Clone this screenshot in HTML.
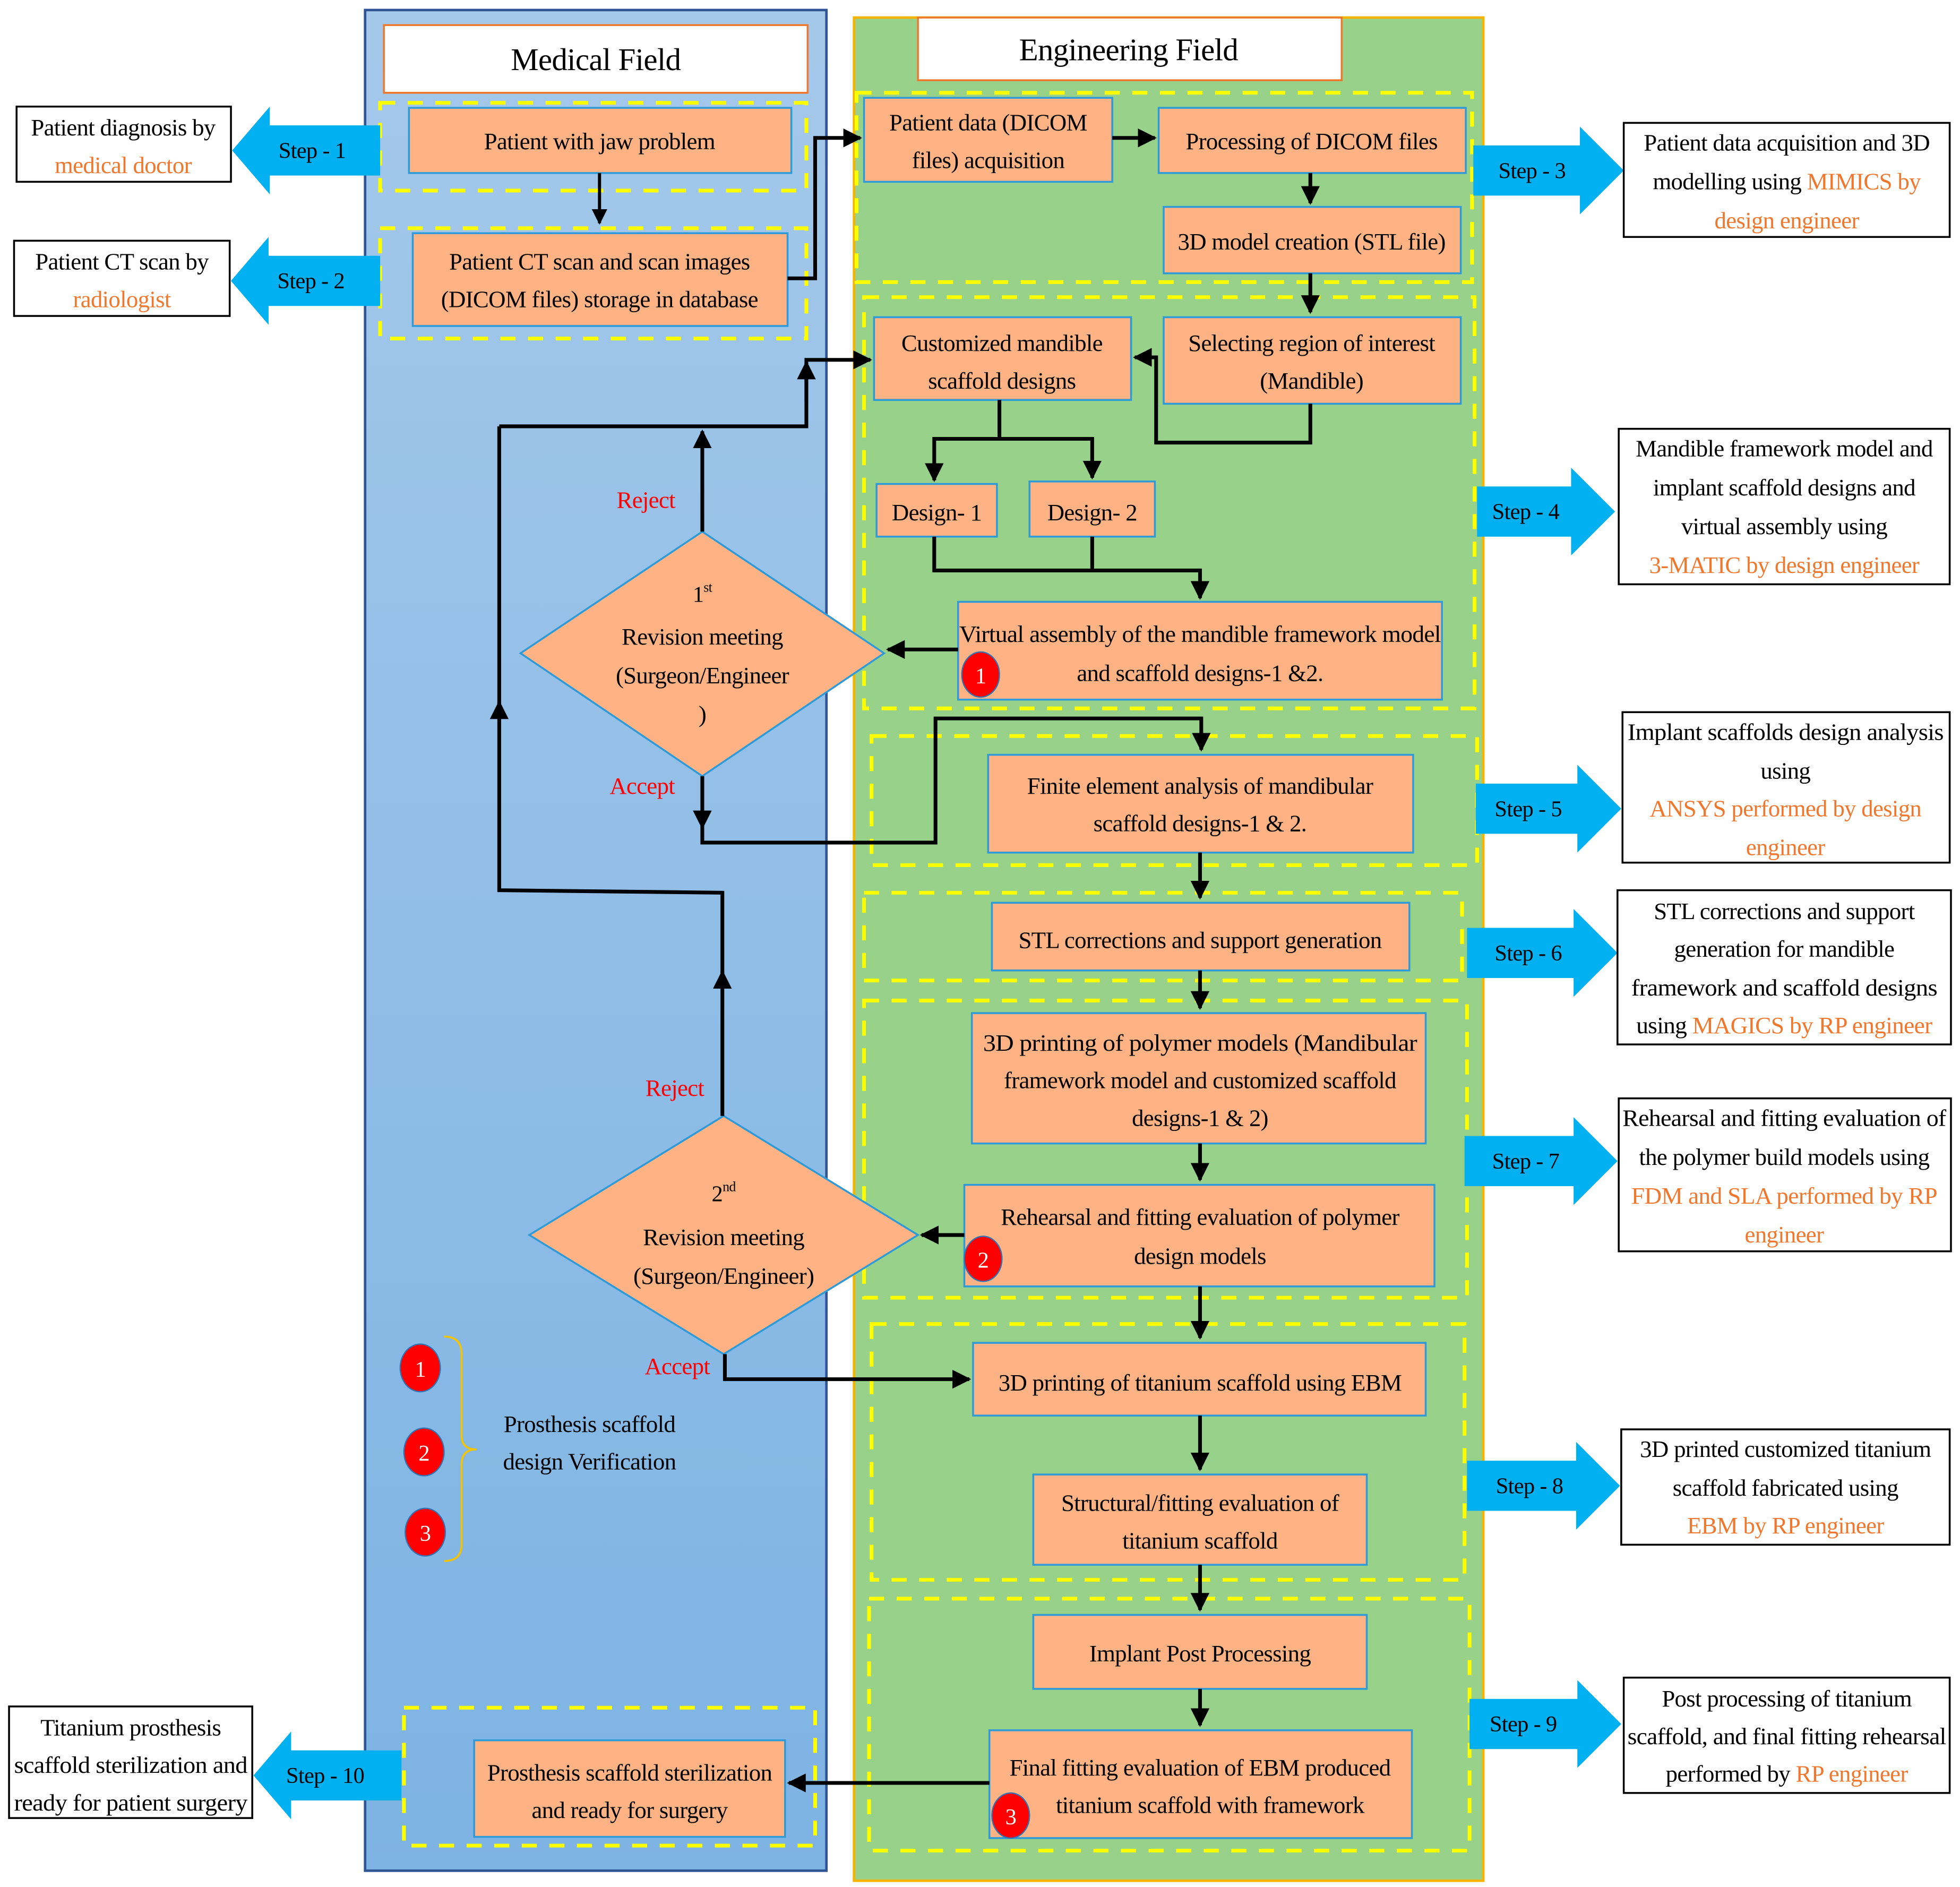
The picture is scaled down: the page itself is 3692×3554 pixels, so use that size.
<!DOCTYPE html>
<html><head><meta charset="utf-8"><style>
html,body{margin:0;padding:0;background:#fff}
svg{display:block}
text{font-family:"Liberation Serif",serif;font-size:19px;fill:#000;letter-spacing:-0.3px}
.o{fill:#F0782E}
.r{fill:#ff0000}
</style></head><body>
<svg width="3692" height="3554" viewBox="0 0 1563 1505" xmlns="http://www.w3.org/2000/svg">
<defs>
<linearGradient id="bg" x1="0" y1="0" x2="0" y2="1"><stop offset="0" stop-color="#A4C8EA"/><stop offset="1" stop-color="#7DB3E3"/></linearGradient>
<marker id="a" markerWidth="5" markerHeight="5" refX="4.5" refY="2.5" orient="auto" markerUnits="strokeWidth"><path d="M0,0 L5,2.5 L0,5 z" fill="#000"/></marker>
</defs>
<rect width="1563" height="1505" fill="#fff"/>
<rect x="291" y="8" width="368" height="1484" fill="url(#bg)" stroke="#2F5597" stroke-width="2"/>
<rect x="681" y="14" width="502" height="1486" fill="#98D18A" stroke="#F5B400" stroke-width="2"/>
<rect x="306" y="20" width="338" height="54" fill="#fff" stroke="#F0782E" stroke-width="1.5"/>
<text x="475" y="56" text-anchor="middle" style="font-size:25px">Medical  Field</text>
<rect x="732" y="14" width="338" height="50" fill="#fff" stroke="#F0782E" stroke-width="1.5"/>
<text x="900" y="48" text-anchor="middle" style="font-size:25px">Engineering  Field</text>

<g fill="none" stroke="#FFFF00" stroke-width="3" stroke-dasharray="12,10">
<rect x="303" y="82" width="340" height="70"/><rect x="303" y="182" width="340" height="88"/><rect x="322" y="1362" width="328" height="110"/>
<rect x="683" y="74" width="491" height="151"/><rect x="689" y="237" width="487" height="328"/><rect x="695" y="587" width="483" height="103"/>
<rect x="689" y="712" width="477" height="70"/><rect x="689" y="798" width="481" height="237"/><rect x="695" y="1056" width="473" height="204"/><rect x="693" y="1275" width="479" height="201"/>
</g>

<g fill="#FFB283" stroke="#2E9BD8" stroke-width="1.5">
<rect x="326" y="86" width="305" height="52"/><rect x="329" y="186" width="299" height="74"/><rect x="378" y="1388" width="248" height="77"/>
<rect x="689" y="78" width="198" height="67"/><rect x="924" y="86" width="245" height="52"/><rect x="928" y="165" width="237" height="53"/>
<rect x="697" y="253" width="205" height="66"/><rect x="928" y="253" width="237" height="69"/>
<rect x="699" y="386" width="96" height="42"/><rect x="821" y="384" width="100" height="44"/>
<rect x="764" y="480" width="386" height="78"/><rect x="788" y="602" width="339" height="78"/><rect x="791" y="720" width="333" height="54"/>
<rect x="775" y="808" width="362" height="104"/><rect x="769" y="945" width="375" height="81"/><rect x="776" y="1071" width="361" height="58"/>
<rect x="824" y="1176" width="266" height="72"/><rect x="824" y="1288" width="266" height="59"/><rect x="789" y="1380" width="337" height="86"/>
<polygon points="415,521 560,424 705,521 560,619"/><polygon points="422,985 577,890 732,985 577,1080"/>
</g>

<g text-anchor="middle">
<text x="478" y="119">Patient with jaw problem</text>
<text x="478" y="215">Patient CT  scan and scan images</text><text x="478" y="245">(DICOM  files) storage in database</text>
<text x="502" y="1420">Prosthesis scaffold sterilization</text><text x="502" y="1450">and ready for surgery</text>
<text x="788" y="104">Patient data (DICOM</text><text x="788" y="134">files) acquisition</text>
<text x="1046" y="119">Processing of DICOM files</text>
<text x="1046" y="199">3D model creation (STL file)</text>
<text x="799" y="280">Customized mandible</text><text x="799" y="310">scaffold designs</text>
<text x="1046" y="280">Selecting region of interest</text><text x="1046" y="310">(Mandible)</text>
<text x="747" y="415">Design- 1</text><text x="871" y="415">Design- 2</text>
<text x="957" y="512" textLength="384" lengthAdjust="spacingAndGlyphs">Virtual  assembly of the mandible framework  model</text><text x="957" y="543">and scaffold designs-1 &amp;2.</text>
<text x="957" y="633">Finite element  analysis of mandibular</text><text x="957" y="663">scaffold designs-1 &amp; 2.</text>
<text x="957" y="756">STL  corrections and support generation</text>
<text x="957" y="838" textLength="346" lengthAdjust="spacingAndGlyphs">3D printing of polymer models (Mandibular</text><text x="957" y="868">framework  model and customized scaffold</text><text x="957" y="898">designs-1 &amp; 2)</text>
<text x="957" y="977">Rehearsal and fitting evaluation of polymer</text><text x="957" y="1008">design models</text>
<text x="957" y="1109">3D printing of titanium scaffold using EBM</text>
<text x="957" y="1205">Structural/fitting evaluation of</text><text x="957" y="1235">titanium scaffold</text>
<text x="957" y="1325">Implant  Post Processing</text>
<text x="957" y="1416">Final fitting evaluation of EBM produced</text><text x="965" y="1446">titanium  scaffold with framework</text>
<text x="560" y="480" style="font-size:18px">1<tspan dy="-8" style="font-size:11px">st</tspan></text>
<text x="560" y="514">Revision meeting</text><text x="560" y="545">(Surgeon/Engineer</text><text x="560" y="576">)</text>
<text x="577" y="958" style="font-size:18px">2<tspan dy="-8" style="font-size:11px">nd</tspan></text>
<text x="577" y="993">Revision meeting</text><text x="577" y="1024">(Surgeon/Engineer)</text>
<text x="515" y="405" class="r">Reject</text><text x="512" y="633" class="r">Accept</text>
<text x="538" y="874" class="r">Reject</text><text x="540" y="1096" class="r">Accept</text>
<text x="470" y="1142">Prosthesis scaffold</text><text x="470" y="1172">design Verification</text>
</g>

<g fill="none" stroke="#000" stroke-width="3">
<path d="M478,138 V178" marker-end="url(#a)" stroke-width="2.5"/>
<path d="M628,222 H650 V110 H686" marker-end="url(#a)"/>
<path d="M887,110 H921" marker-end="url(#a)"/>
<path d="M1045,138 V162" marker-end="url(#a)"/>
<path d="M1045,218 V249" marker-end="url(#a)"/>
<path d="M1045,322 V353 H922 V285 H905" marker-end="url(#a)"/>
<path d="M797,319 V350 H745 V383" marker-end="url(#a)"/>
<path d="M797,350 H871 V381" marker-end="url(#a)"/>
<path d="M745,428 V455 H957 V477" marker-end="url(#a)"/>
<path d="M871,428 V455"/>
<path d="M764,518 H708" marker-end="url(#a)"/>
<path d="M560,424 V344" marker-end="url(#a)"/>
<path d="M398,340 H643 V287 H694" marker-end="url(#a)"/>
<path d="M643,320 V289" marker-end="url(#a)"/>
<path d="M576,890 V775" marker-end="url(#a)"/>
<path d="M576,780 V712 L398,710 V560" marker-end="url(#a)"/>
<path d="M398,565 V340"/>
<path d="M560,619 V660" marker-end="url(#a)"/>
<path d="M560,655 V672 H746 V573 H958 V598" marker-end="url(#a)"/>
<path d="M957,680 V716" marker-end="url(#a)"/>
<path d="M957,774 V804" marker-end="url(#a)"/>
<path d="M957,912 V941" marker-end="url(#a)"/>
<path d="M769,985 H735" marker-end="url(#a)"/>
<path d="M957,1026 V1067" marker-end="url(#a)"/>
<path d="M578,1080 V1100 H773" marker-end="url(#a)"/>
<path d="M957,1129 V1172" marker-end="url(#a)"/>
<path d="M957,1248 V1284" marker-end="url(#a)"/>
<path d="M957,1347 V1376" marker-end="url(#a)"/>
<path d="M789,1422 H629" marker-end="url(#a)"/>
</g>

<g fill="#ff0000" stroke="#2E75B6" stroke-width="1">
<ellipse cx="782" cy="538" rx="15" ry="18"/><ellipse cx="784" cy="1004" rx="15" ry="18"/><ellipse cx="806" cy="1448" rx="15" ry="18"/>
<ellipse cx="335" cy="1091" rx="16" ry="19"/><ellipse cx="338" cy="1158" rx="16" ry="19"/><ellipse cx="339" cy="1222" rx="16" ry="19"/>
</g>
<g text-anchor="middle">
<text x="782" y="545" style="fill:#fff;font-size:18px">1</text><text x="784" y="1011" style="fill:#fff;font-size:18px">2</text><text x="806" y="1455" style="fill:#fff;font-size:18px">3</text>
<text x="335" y="1098" style="fill:#fff;font-size:18px">1</text><text x="338" y="1165" style="fill:#fff;font-size:18px">2</text><text x="339" y="1229" style="fill:#fff;font-size:18px">3</text>
</g>
<path d="M354,1066 Q368,1066 368,1080 V1145 Q368,1156 380,1156 Q368,1156 368,1168 V1232 Q368,1245 354,1245" fill="none" stroke="#F5C400" stroke-width="1.5"/>

<g fill="#00B0F0">
<polygon points="185,120 215,85 215,100 303,100 303,140 215,140 215,155"/>
<polygon points="184,224 214,189 214,204 303,204 303,244 214,244 214,259"/>
<polygon points="202,1416 232,1381 232,1396 320,1396 320,1436 232,1436 232,1451"/>
<polygon points="1175,116 1260,116 1260,101 1295,136 1260,171 1260,156 1175,156"/>
<polygon points="1178,388 1253,388 1253,373 1288,408 1253,443 1253,428 1178,428"/>
<polygon points="1177,625 1258,625 1258,610 1293,645 1258,680 1258,665 1177,665"/>
<polygon points="1170,740 1255,740 1255,725 1290,760 1255,795 1255,780 1170,780"/>
<polygon points="1168,906 1255,906 1255,891 1290,926 1255,961 1255,946 1168,946"/>
<polygon points="1170,1165 1257,1165 1257,1150 1292,1185 1257,1220 1257,1205 1170,1205"/>
<polygon points="1172,1355 1258,1355 1258,1340 1293,1375 1258,1410 1258,1395 1172,1395"/>
</g>
<g>
<text x="222" y="126" style="font-size:18px">Step - 1</text><text x="221" y="230" style="font-size:18px">Step - 2</text><text x="228" y="1422" style="font-size:18px">Step - 10</text>
<text x="1195" y="142" style="font-size:18px">Step - 3</text><text x="1190" y="414" style="font-size:18px">Step - 4</text><text x="1192" y="651" style="font-size:18px">Step - 5</text>
<text x="1192" y="766" style="font-size:18px">Step - 6</text><text x="1190" y="932" style="font-size:18px">Step - 7</text><text x="1193" y="1191" style="font-size:18px">Step - 8</text><text x="1188" y="1381" style="font-size:18px">Step - 9</text>
</g>

<g fill="#fff" stroke="#000" stroke-width="1.5">
<rect x="13" y="85" width="171" height="60"/><rect x="11" y="192" width="172" height="60"/><rect x="7" y="1361" width="194" height="89"/>
<rect x="1295" y="98" width="260" height="91"/><rect x="1291" y="342" width="264" height="124"/><rect x="1294" y="568" width="261" height="120"/>
<rect x="1290" y="710" width="266" height="123"/><rect x="1291" y="876" width="265" height="122"/><rect x="1293" y="1140" width="262" height="92"/><rect x="1295" y="1338" width="260" height="92"/>
</g>
<g text-anchor="middle">
<text x="98" y="108">Patient diagnosis by</text><text x="98" y="138" class="o">medical  doctor</text>
<text x="97" y="215">Patient CT  scan by</text><text x="97" y="245" class="o">radiologist</text>
<text x="104" y="1384">Titanium prosthesis</text><text x="104" y="1414" textLength="186" lengthAdjust="spacingAndGlyphs">scaffold sterilization  and</text><text x="104" y="1444" textLength="186" lengthAdjust="spacingAndGlyphs">ready for patient surgery</text>
<text x="1425" y="120">Patient data acquisition and 3D</text><text x="1425" y="151">modelling using <tspan class="o">MIMICS  by</tspan></text><text x="1425" y="182" class="o">design engineer</text>
<text x="1423" y="364">Mandible framework  model and</text><text x="1423" y="395">implant  scaffold designs and</text><text x="1423" y="426">virtual assembly using</text><text x="1423" y="457" class="o">3-MATIC by design engineer</text>
<text x="1424" y="590" textLength="252" lengthAdjust="spacingAndGlyphs">Implant  scaffolds design analysis</text><text x="1424" y="621">using</text><text x="1424" y="651" class="o">ANSYS  performed by design</text><text x="1424" y="682" class="o">engineer</text>
<text x="1423" y="733">STL  corrections and support</text><text x="1423" y="763">generation for mandible</text><text x="1423" y="794" textLength="244" lengthAdjust="spacingAndGlyphs">framework  and scaffold designs</text><text x="1423" y="824" textLength="236" lengthAdjust="spacingAndGlyphs">using <tspan class="o">MAGICS  by RP engineer</tspan></text>
<text x="1423" y="898" textLength="258" lengthAdjust="spacingAndGlyphs">Rehearsal and fitting evaluation of</text><text x="1423" y="929">the polymer build models using</text><text x="1423" y="960" class="o" textLength="244" lengthAdjust="spacingAndGlyphs">FDM and SLA performed by RP</text><text x="1423" y="991" class="o">engineer</text>
<text x="1424" y="1162">3D printed customized titanium</text><text x="1424" y="1193">scaffold fabricated using</text><text x="1424" y="1223" class="o">EBM by RP engineer</text>
<text x="1425" y="1361">Post processing of titanium</text><text x="1425" y="1391" textLength="254" lengthAdjust="spacingAndGlyphs">scaffold, and final fitting rehearsal</text><text x="1425" y="1421">performed by <tspan class="o">RP engineer</tspan></text>
</g>
</svg>
</body></html>
